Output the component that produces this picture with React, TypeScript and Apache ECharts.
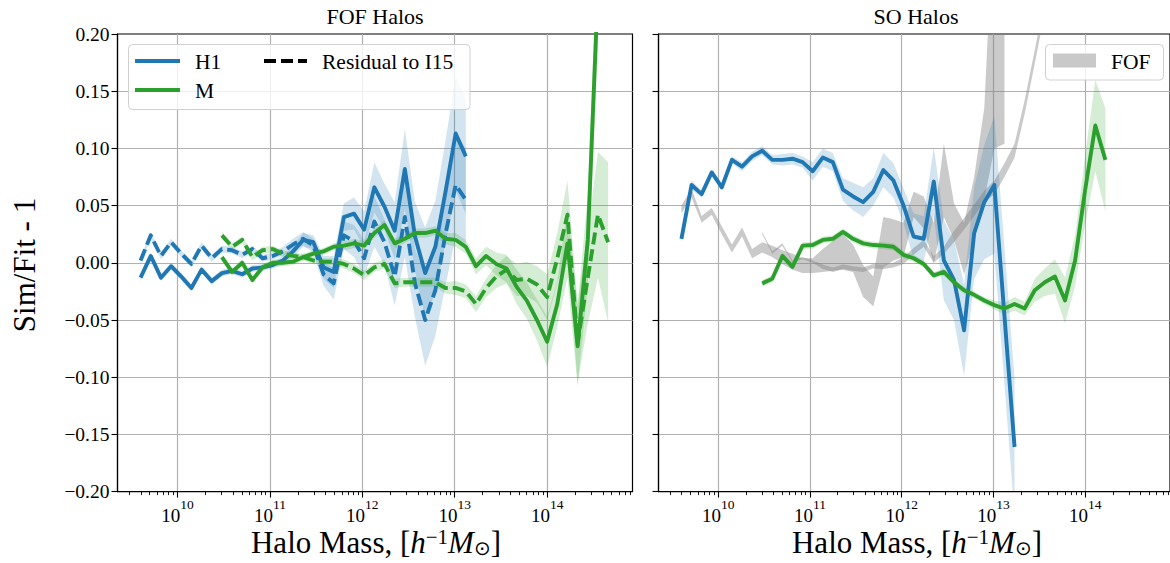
import React, { useEffect, useRef } from "react";
import * as echarts from "echarts";

// log10 of halo mass bin centres (shared by all curves)
const LOG_M = [
  9.6, 9.71, 9.82, 9.93, 10.04, 10.15, 10.26, 10.37, 10.48, 10.59, 10.7, 10.81, 10.92, 11.03, 11.14, 11.25,
  11.36, 11.47, 11.58, 11.69, 11.8, 11.91, 12.02, 12.13, 12.24, 12.35, 12.46, 12.57, 12.68, 12.79, 12.9,
  13.01, 13.12, 13.23, 13.34, 13.45, 13.56, 13.67, 13.78, 13.89, 14.0, 14.11, 14.22, 14.33, 14.44, 14.55, 14.66,
];

const X_MIN = 9.35;
const X_MAX = 14.924;
const MAJOR_TICKS = [10, 11, 12, 13, 14];

// ---- FOF panel (left) ----
// H1, starts at bin 0
const FOF_H1 = [
  -0.013, 0.006, -0.013, -0.003, -0.012, -0.022, -0.006, -0.016, -0.009, -0.007, -0.01, -0.005, -0.004, -0.002,
  0.002, 0.01, 0.02, 0.018, -0.004, -0.008, 0.04, 0.043, 0.029, 0.066, 0.049, 0.028, 0.082, 0.023, -0.009, 0.014,
  0.062, 0.113, 0.093,
];
const FOF_H1_ERR = [
  0.003, 0.003, 0.003, 0.003, 0.003, 0.003, 0.003, 0.003, 0.003, 0.003, 0.003, 0.003, 0.003, 0.003, 0.004, 0.005,
  0.006, 0.006, 0.01, 0.014, 0.012, 0.014, 0.016, 0.022, 0.02, 0.025, 0.035, 0.03, 0.04, 0.04, 0.045, 0.05, 0.05,
];
// H1 residual to I15 (dashed), starts at bin 0
const FOF_H1_RES = [
  0.002, 0.024, 0.006, 0.018, 0.008, -0.001, 0.015, 0.004, 0.012, 0.011, 0.007, 0.012, 0.004, 0.006, 0.01, 0.016,
  0.021, 0.015, -0.01, -0.018, 0.024, 0.019, 0.004, 0.036, 0.018, -0.012, 0.04, -0.018, -0.05, -0.024, 0.025,
  0.068, 0.055,
];
const FOF_H1_RES_ERR = [
  0.003, 0.003, 0.003, 0.003, 0.003, 0.003, 0.003, 0.003, 0.003, 0.003, 0.003, 0.003, 0.003, 0.003, 0.004, 0.005,
  0.006, 0.006, 0.01, 0.014, 0.012, 0.014, 0.016, 0.022, 0.02, 0.025, 0.035, 0.03, 0.04, 0.04, 0.045, 0.045, 0.045,
];
// M, starts at bin 8
const FOF_M_START = 8;
const FOF_M = [
  0.005, -0.008, 0.0, -0.015, -0.004, 0.0, 0.0, 0.001, 0.005, 0.008, 0.01, 0.014, 0.015, 0.017, 0.015, 0.026,
  0.033, 0.017, 0.021, 0.026, 0.026, 0.028, 0.021, 0.02, 0.014, -0.003, 0.006, -0.001, -0.005, -0.021, -0.033,
  -0.05, -0.069, -0.036, 0.017, -0.073, 0.02, 0.24,
];
const FOF_M_ERR = [
  0.003, 0.003, 0.003, 0.003, 0.003, 0.003, 0.003, 0.003, 0.003, 0.003, 0.003, 0.003, 0.004, 0.004, 0.004, 0.004,
  0.004, 0.004, 0.004, 0.004, 0.004, 0.004, 0.005, 0.006, 0.006, 0.007, 0.008, 0.01, 0.012, 0.015, 0.016, 0.018,
  0.022, 0.02, 0.03, 0.035, 0.04, 0.05,
];
// M residual to I15 (dashed), starts at bin 8
const FOF_M_RES = [
  0.024, 0.014, 0.02, 0.005, 0.011, 0.012, 0.008, 0.006, 0.005, 0.002, 0.001, 0.001, -0.001, -0.005, -0.011,
  -0.004, -0.001, -0.018, -0.017, -0.017, -0.017, -0.017, -0.022, -0.022, -0.025, -0.036, -0.022, -0.012, -0.006,
  -0.015, -0.014, -0.019, -0.03, 0.004, 0.042, -0.07, -0.013, 0.042, 0.018,
];
const FOF_M_RES_ERR = [
  0.003, 0.003, 0.003, 0.003, 0.003, 0.003, 0.003, 0.003, 0.003, 0.003, 0.003, 0.003, 0.004, 0.004, 0.004, 0.004,
  0.004, 0.004, 0.004, 0.004, 0.004, 0.004, 0.005, 0.006, 0.006, 0.007, 0.008, 0.01, 0.012, 0.014, 0.015, 0.016,
  0.02, 0.022, 0.03, 0.035, 0.04, 0.055, 0.07,
];

// ---- SO panel (right) ----
const SO_H1 = [
  0.021, 0.068, 0.06, 0.079, 0.066, 0.09, 0.084, 0.093, 0.098, 0.09, 0.09, 0.091, 0.088, 0.08, 0.092, 0.088,
  0.064, 0.058, 0.053, 0.062, 0.081, 0.072, 0.05, 0.023, 0.021, 0.071, 0.002, -0.015, -0.059, 0.026, 0.053, 0.068,
  null, -0.161,
];
const SO_H1_ERR = [
  0.003, 0.004, 0.003, 0.003, 0.003, 0.003, 0.004, 0.004, 0.004, 0.004, 0.005, 0.005, 0.005, 0.008, 0.008, 0.008,
  0.01, 0.012, 0.013, 0.012, 0.015, 0.015, 0.015, 0.02, 0.02, 0.03, 0.035, 0.035, 0.04, 0.04, 0.05, 0.06, null, 0.06,
];
const SO_M_START = 8;
const SO_M = [
  -0.018, -0.014, 0.006, -0.0035, 0.015, 0.0155, 0.02, 0.021, 0.027, 0.021, 0.017, 0.0155, 0.015, 0.014, 0.007,
  0.004, -0.001, -0.011, -0.008, -0.017, -0.024, -0.028, -0.033, -0.037, -0.04, -0.036, -0.04, -0.024, -0.017,
  -0.012, -0.033, 0.002, 0.064, 0.12, 0.09,
];
const SO_M_ERR = [
  0.003, 0.003, 0.003, 0.003, 0.003, 0.003, 0.003, 0.003, 0.003, 0.003, 0.003, 0.003, 0.003, 0.003, 0.003, 0.003,
  0.003, 0.003, 0.003, 0.003, 0.003, 0.003, 0.003, 0.004, 0.005, 0.006, 0.006, 0.01, 0.012, 0.015, 0.02, 0.022,
  0.03, 0.04, 0.045,
];
// FOF comparison bands (grey), first one from bin 0
const FOF_A_LO = [
  0.043, 0.057, 0.035, 0.042, 0.025, 0.009, 0.023, 0.004, 0.009, 0.005, -0.001, -0.006, -0.009, -0.009, -0.008,
  -0.007, -0.006, -0.008, -0.03, -0.038, -0.004, 0.002, 0.005, 0.04, 0.03, 0.0, 0.04, 0.02, -0.01, 0.02, 0.055,
  0.1, 0.104,
];
const FOF_A_HI = [
  0.05, 0.065, 0.041, 0.048, 0.032, 0.016, 0.031, 0.012, 0.018, 0.015, 0.011, 0.008, 0.004, 0.004, 0.012, 0.019,
  0.025, 0.016, -0.002, -0.012, 0.04, 0.038, 0.035, 0.062, 0.058, 0.035, 0.104, 0.052, 0.035, 0.075, 0.135, 0.32,
  0.3,
];
// second grey band, from bin 8
const FOF_B_START = 8;
const FOF_B = [
  0.026, 0.009, 0.016, 0.001, 0.004, 0.001, -0.0035, -0.006, -0.0035, -0.005, -0.006, -0.003, -0.0035, -0.002,
  0.002, 0.01, 0.017, 0.003, 0.011, 0.023, 0.034, 0.046, 0.058, 0.066, 0.081, 0.098, 0.136, 0.18, 0.225,
];
const FOF_B_ERR = [
  0.001, 0.001, 0.001, 0.001, 0.001, 0.001, 0.002, 0.002, 0.002, 0.002, 0.002, 0.002, 0.002, 0.002, 0.003, 0.003,
  0.003, 0.003, 0.003, 0.005, 0.005, 0.005, 0.005, 0.006, 0.006, 0.006, 0.006, 0.006, 0.006,
];

const BLUE = "#1f77b4";
const GREEN = "#2ca02c";
const BLUE_FILL = "rgba(31,119,180,0.2)";
const GREEN_FILL = "rgba(44,160,44,0.2)";
const GREY_FILL = "rgba(128,128,128,0.42)";
const SERIF = "'Liberation Serif', 'DejaVu Serif', serif";
const GRID_COLOR = "#b0b0b0";
const LINE_W = 3.9;

function linePairs(vals: (number | null)[], start: number) {
  const out: number[][] = [];
  vals.forEach((v, i) => {
    if (v !== null) out.push([LOG_M[start + i], v]);
  });
  return out;
}
function errRows(vals: (number | null)[], errs: (number | null)[], start: number) {
  const out: number[][] = [];
  vals.forEach((v, i) => {
    const e = errs[i];
    if (v !== null && e !== null) out.push([LOG_M[start + i], v - e, v + e]);
  });
  return out;
}
function loHiRows(lo: number[], hi: number[], start: number) {
  return lo.map((l, i) => [LOG_M[start + i], l, hi[i]]);
}

function bandSeries(rows: number[][], fill: string, axis: number, z: number) {
  return {
    type: "custom",
    xAxisIndex: axis * 2,
    yAxisIndex: axis,
    z,
    silent: true,
    data: rows,
    encode: { x: 0, y: [1, 2] },
    renderItem: (params: any, api: any) => {
      if (params.dataIndex !== 0) return null;
      const upper = rows.map((r) => api.coord([r[0], r[2]]));
      const lower = rows.map((r) => api.coord([r[0], r[1]])).reverse();
      const cs = params.coordSys;
      return {
        type: "polygon",
        shape: { points: upper.concat(lower) },
        style: { fill, stroke: null },
        clipPath: { type: "rect", shape: { x: cs.x, y: cs.y, width: cs.width, height: cs.height } },
      };
    },
  };
}

function lineSeries(data: number[][], color: string, axis: number, dashed: boolean, z: number) {
  return {
    type: "line",
    xAxisIndex: axis * 2,
    yAxisIndex: axis,
    data,
    z,
    silent: true,
    showSymbol: false,
    symbol: "none",
    clip: true,
    lineStyle: { color, width: LINE_W, type: dashed ? [12, 5] : "solid", cap: "butt", join: "round" },
    itemStyle: { color },
  };
}

const MINOR_TICKS: number[] = [];
for (let n = 9; n <= 14; n++) {
  for (let k = 2; k <= 9; k++) {
    const v = n + Math.log10(k);
    if (v > X_MIN && v < X_MAX) MINOR_TICKS.push(v);
  }
}

function xAxes(gridIndex: number) {
  return [
    {
      gridIndex,
      type: "value",
      position: "bottom",
      min: X_MIN,
      max: X_MAX,
      axisLine: { show: true, onZero: false, lineStyle: { color: "#000", width: 1.2 } },
      axisTick: { show: true, customValues: MAJOR_TICKS, length: 6, lineStyle: { color: "#000", width: 1.1 } },
      axisLabel: {
        show: true,
        customValues: MAJOR_TICKS,
        margin: 6,
        formatter: (v: number) => (Math.abs(v - Math.round(v)) < 1e-6 ? `{b|10}{e|${Math.round(v)}}` : ""),
        rich: {
          b: { fontSize: 19, fontFamily: SERIF, color: "#000", lineHeight: 27, verticalAlign: "bottom" },
          e: { fontSize: 13.5, fontFamily: SERIF, color: "#000", lineHeight: 15, verticalAlign: "top" },
        },
      },
      splitLine: { show: true, showMinLine: true, showMaxLine: true, lineStyle: { color: GRID_COLOR, width: 1.2 } },
    },
    {
      gridIndex,
      type: "value",
      position: "bottom",
      min: X_MIN,
      max: X_MAX,
      axisLine: { show: false, onZero: false },
      axisTick: { show: true, customValues: MINOR_TICKS, length: 3.5, lineStyle: { color: "#000", width: 0.9 } },
      axisLabel: { show: false },
      splitLine: { show: false },
    },
  ];
}

function yAxis(gridIndex: number, labels: boolean) {
  return {
    gridIndex,
    type: "value",
    position: "left",
    min: -0.2,
    max: 0.2,
    interval: 0.05,
    axisLine: { show: true, onZero: false, lineStyle: { color: "#000", width: 1.2 } },
    axisTick: { show: true, length: 6, lineStyle: { color: "#000", width: 1.1 } },
    axisLabel: {
      show: labels,
      margin: 8,
      fontSize: 19.5,
      fontFamily: SERIF,
      color: "#000",
      formatter: (v: number) => (v < -1e-9 ? "\u2212" : "") + Math.abs(v).toFixed(2),
    },
    splitLine: { show: true, showMinLine: false, showMaxLine: false, lineStyle: { color: GRID_COLOR, width: 1.2 } },
  };
}

const XLABEL_RICH = {
  n: { fontSize: 31, fontFamily: SERIF, color: "#000", lineHeight: 32 },
  i: { fontSize: 31, fontFamily: SERIF, fontStyle: "italic", color: "#000", lineHeight: 32 },
  sup: { fontSize: 21, fontFamily: SERIF, color: "#000", lineHeight: 16, verticalAlign: "top" },
  sub: { fontSize: 20, fontFamily: "'DejaVu Sans', sans-serif", color: "#000", lineHeight: 14, verticalAlign: "bottom" },
};
const XLABEL_TEXT = "{n|Halo Mass, [}{i|h}{sup|\u22121}{i|M}{sub|\u2299}{n|]}";

function textEl(text: string, x: number, y: number, size: number, align = "center", extra: any = {}) {
  return {
    type: "text",
    x,
    y,
    z: 100,
    silent: true,
    ...extra,
    style: {
      text,
      fill: "#000",
      fontSize: size,
      fontFamily: SERIF,
      align,
      textAlign: align,
      verticalAlign: "middle",
      textVerticalAlign: "middle",
    },
  };
}

export default function App() {
  const ref = useRef<HTMLDivElement>(null);
  useEffect(() => {
    if (!ref.current) return;
    const chart = echarts.init(ref.current, null, { renderer: "svg" });
    const series: any[] = [
      // left panel
      bandSeries(errRows(FOF_H1, FOF_H1_ERR, 0), BLUE_FILL, 0, 2),
      lineSeries(linePairs(FOF_H1, 0), BLUE, 0, false, 3),
      bandSeries(errRows(FOF_H1_RES, FOF_H1_RES_ERR, 0), BLUE_FILL, 0, 2),
      lineSeries(linePairs(FOF_H1_RES, 0), BLUE, 0, true, 3),
      bandSeries(errRows(FOF_M, FOF_M_ERR, FOF_M_START), GREEN_FILL, 0, 2),
      lineSeries(linePairs(FOF_M, FOF_M_START), GREEN, 0, false, 4),
      bandSeries(errRows(FOF_M_RES, FOF_M_RES_ERR, FOF_M_START), GREEN_FILL, 0, 2),
      lineSeries(linePairs(FOF_M_RES, FOF_M_START), GREEN, 0, true, 4),
      // right panel
      bandSeries(loHiRows(FOF_A_LO, FOF_A_HI, 0), GREY_FILL, 1, 2),
      bandSeries(errRows(FOF_B, FOF_B_ERR, FOF_B_START), GREY_FILL, 1, 2),
      bandSeries(errRows(SO_H1, SO_H1_ERR, 0), BLUE_FILL, 1, 2),
      lineSeries(linePairs(SO_H1, 0), BLUE, 1, false, 3),
      bandSeries(errRows(SO_M, SO_M_ERR, SO_M_START), GREEN_FILL, 1, 2),
      lineSeries(linePairs(SO_M, SO_M_START), GREEN, 1, false, 4),
    ];

    const xLabel = (x: number) => ({
      type: "text",
      x,
      y: 542,
      z: 100,
      silent: true,
      style: { text: XLABEL_TEXT, rich: XLABEL_RICH, align: "center", textAlign: "center", verticalAlign: "middle", textVerticalAlign: "middle" },
    });

    const graphic: any[] = [
      textEl("FOF Halos", 375, 16, 22),
      textEl("SO Halos", 916, 16, 22),
      textEl("Sim/Fit - 1", 24, 265, 31, "center", { rotation: Math.PI / 2 }),
      xLabel(376),
      xLabel(917),
      // left legend
      {
        type: "rect",
        z: 100,
        silent: true,
        shape: { x: 128.5, y: 44.5, width: 341.5, height: 65, r: 4 },
        style: { fill: "rgba(255,255,255,0.8)", stroke: "#d0d0d0", lineWidth: 1 },
      },
      { type: "line", z: 101, silent: true, shape: { x1: 135, y1: 61, x2: 180, y2: 61 }, style: { stroke: BLUE, lineWidth: LINE_W } },
      { type: "line", z: 101, silent: true, shape: { x1: 135, y1: 90, x2: 180, y2: 90 }, style: { stroke: GREEN, lineWidth: LINE_W } },
      {
        type: "line",
        z: 101,
        silent: true,
        shape: { x1: 264, y1: 61, x2: 307, y2: 61 },
        style: { stroke: "#000", lineWidth: LINE_W, lineDash: [12, 5] },
      },
      textEl("H1", 195, 62, 21.5, "left", { z: 101 }),
      textEl("M", 195, 91, 21.5, "left", { z: 101 }),
      textEl("Residual to I15", 322, 62, 21.5, "left", { z: 101 }),
      // right legend
      {
        type: "rect",
        z: 100,
        silent: true,
        shape: { x: 1045.5, y: 44.5, width: 118, height: 35.5, r: 4 },
        style: { fill: "rgba(255,255,255,0.8)", stroke: "#d0d0d0", lineWidth: 1 },
      },
      {
        type: "rect",
        z: 101,
        silent: true,
        shape: { x: 1053, y: 53.5, width: 43, height: 14 },
        style: { fill: "#c9c9c9" },
      },
      textEl("FOF", 1111, 62, 21.5, "left", { z: 101 }),
    ];

    chart.setOption({
      animation: false,
      backgroundColor: "#fff",
      textStyle: { fontFamily: SERIF },
      grid: [
        { left: 117.5, top: 34, width: 515, height: 457.6, show: true, borderColor: "#000", borderWidth: 1.2, backgroundColor: "transparent" },
        { left: 658.5, top: 34, width: 515, height: 457.6, show: true, borderColor: "#000", borderWidth: 1.2, backgroundColor: "transparent" },
      ],
      xAxis: [...xAxes(0), ...xAxes(1)],
      yAxis: [yAxis(0, true), yAxis(1, false)],
      series,
      graphic,
    });
    return () => chart.dispose();
  }, []);
  return <div ref={ref} style={{ position: "fixed", left: 0, top: 0, width: 1170, height: 563 }} />;
}
